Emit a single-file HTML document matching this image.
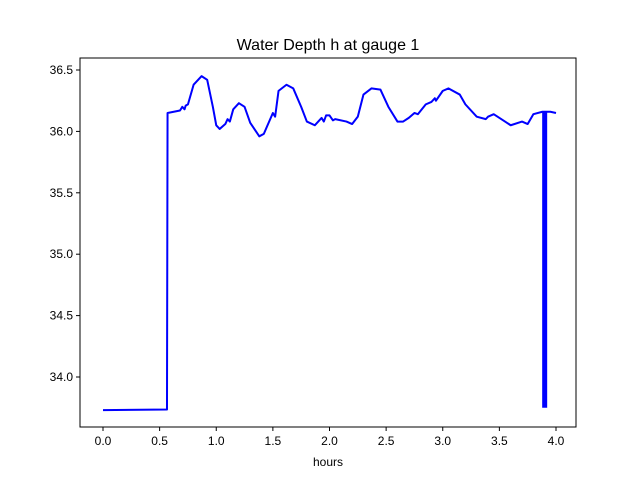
<!DOCTYPE html>
<html><head><meta charset="utf-8"><style>body{margin:0;background:#fff}svg{display:block;font-family:"Liberation Sans","DejaVu Sans",sans-serif}</style></head>
<body>
<svg id="chart" width="640" height="480"></svg>
<script>
const times=[0,0.565,0.57,0.68,0.7,0.72,0.73,0.75,0.8,0.87,0.92,0.97,1.0,1.03,1.08,1.1,1.12,1.15,1.2,1.25,1.3,1.38,1.42,1.5,1.52,1.55,1.62,1.68,1.75,1.8,1.87,1.93,1.95,1.97,2.0,2.03,2.05,2.15,2.2,2.25,2.3,2.37,2.45,2.52,2.6,2.65,2.7,2.75,2.78,2.85,2.9,2.93,2.94,3.0,3.05,3.15,3.2,3.3,3.38,3.4,3.45,3.55,3.6,3.7,3.75,3.8,3.88];
const depths=[33.73,33.735,36.15,36.17,36.2,36.18,36.21,36.22,36.38,36.45,36.42,36.2,36.05,36.02,36.06,36.1,36.08,36.18,36.23,36.2,36.07,35.96,35.98,36.15,36.12,36.33,36.38,36.35,36.2,36.08,36.05,36.11,36.08,36.13,36.13,36.09,36.1,36.08,36.06,36.12,36.3,36.35,36.34,36.2,36.08,36.08,36.11,36.15,36.14,36.22,36.24,36.27,36.25,36.33,36.35,36.3,36.22,36.12,36.1,36.12,36.14,36.08,36.05,36.08,36.06,36.14,36.16];
const tailTimes=[3.9,3.95,4.0];
const tailDepths=[36.16,36.16,36.15];
const spikeTime=3.9, spikeLow=33.75;
const xTicks=[0,0.5,1,1.5,2,2.5,3,3.5,4];
const yTicks=[34,34.5,35,35.5,36,36.5];
const L=80,R=576,T=58,B=427;
const xs=v=>103+(v-0)*(556-103)/4;
const ys=v=>377-(v-34)*(377-70)/2.5;
const svg=document.getElementById('chart');const NS='http://www.w3.org/2000/svg';
function mk(t,a,txt){const e=document.createElementNS(NS,t);for(const k in a)e.setAttribute(k,a[k]);if(txt!==undefined)e.textContent=txt;svg.appendChild(e);return e;}
let t=mk('text',{x:328,y:50,'text-anchor':'middle','font-size':16},'Water Depth h at gauge 1');


let d='';times.forEach((v,i)=>{d+=(i?'L':'M')+xs(v)+' '+ys(depths[i]);});
tailTimes.forEach(v=>{});
tailTimes.forEach((v,i)=>{d+='L'+xs(v)+' '+ys(tailDepths[i]);});
let p=mk('path',{d:d,fill:'none',stroke:'#0000ff','stroke-width':2,'stroke-linejoin':'round'});


let s=mk('line',{x1:xs(spikeTime),x2:xs(spikeTime),y1:ys(36.16),y2:ys(spikeLow),stroke:'#0000ff','stroke-width':5});


let fr=mk('rect',{x:L,y:T,width:R-L,height:B-T,fill:'none',stroke:'#000','stroke-width':1});


xTicks.forEach(v=>{const x=xs(v);
 let l=mk('line',{x1:x,x2:x,y1:B,y2:B+4,stroke:'#000'});
 let tx=mk('text',{x:x,y:B+18,'text-anchor':'middle','font-size':12},v.toFixed(1));});
yTicks.forEach(v=>{const y=ys(v);
 let l=mk('line',{x1:L-4,x2:L,y1:y,y2:y,stroke:'#000'});
 let tx=mk('text',{x:L-7,y:y+4,'text-anchor':'end','font-size':12},v.toFixed(1));});
let xt=mk('text',{x:328,y:466,'text-anchor':'middle','font-size':12},'hours');


</script>
</body></html>
